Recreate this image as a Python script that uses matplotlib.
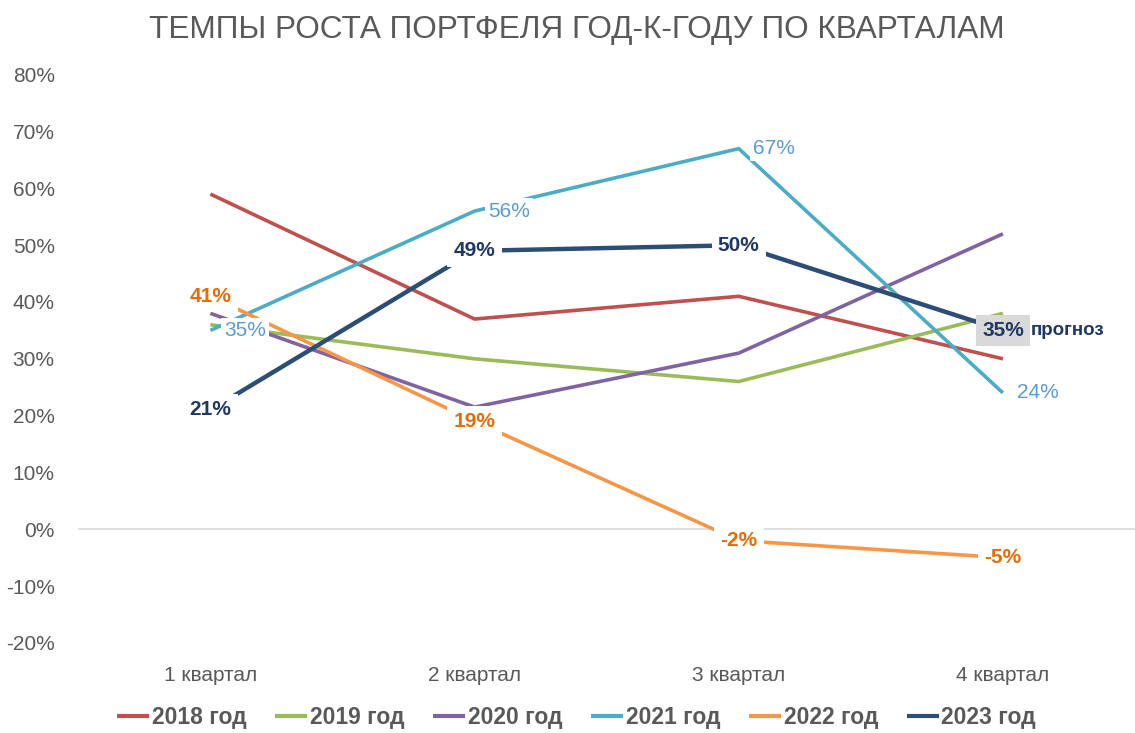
import matplotlib
matplotlib.use('Agg')
import matplotlib.pyplot as plt
from matplotlib.ticker import PercentFormatter

plt.rcParams['font.family'] = ['Liberation Sans', 'DejaVu Sans']
plt.rcParams['axes.unicode_minus'] = False

quarters = ['1 квартал', '2 квартал', '3 квартал', '4 квартал']
series_names = ['2018 год', '2019 год', '2020 год', '2021 год', '2022 год', '2023 год']
y2018 = [59, 37, 41, 30]
y2019 = [36, 30, 26, 38]
y2020 = [38, 21.5, 31, 52]
y2021 = [35, 56, 67, 24]
y2022 = [41, 19, -2, -5]
y2023 = [21, 49, 50, 35]
colors = ['#C0504D', '#9BBB59', '#8064A2', '#4BACC6', '#F79646', '#2C4D75']

GRAY = '#595959'

fig = plt.figure(figsize=(11.35, 7.33), dpi=100)
ax = fig.add_axes([0.069, 0.123, 0.931, 0.775])

x = range(len(quarters))
data = [y2018, y2019, y2020, y2021, y2022, y2023]
for vals, name, c in zip(data, series_names, colors):
    lw = 3.2 if name == '2023 год' else 2.6
    ax.plot(x, vals, color=c, lw=lw, label=name, solid_capstyle='butt', zorder=3)

# 2021 labels sit to the right of the point
for i, v in enumerate(y2021):
    ax.annotate(f'{v}%', (i, v), xytext=(10, 0), textcoords='offset points',
                ha='left', va='center', fontsize=15, color='#5B9BD5', zorder=6,
                bbox=dict(boxstyle='square,pad=0.15', fc='white', ec='none'))

# 2022 labels centred on the point
for i, v in enumerate(y2022):
    ax.text(i, v, f'{v}%', ha='center', va='center', fontsize=15, fontweight='bold',
            color='#E46C0A', zorder=6,
            bbox=dict(boxstyle='square,pad=0.3', fc='white', ec='none'))

# 2023 labels, last one is the forecast
for i, v in enumerate(y2023):
    face = '#D9D9D9' if i == 3 else 'white'
    ax.text(i, v, f'{v}%', ha='center', va='center', fontsize=15, fontweight='bold',
            color='#1F3864', zorder=7,
            bbox=dict(boxstyle='square,pad=0.3', fc=face, ec='none'))
ax.annotate('прогноз', (3, y2023[3]), xytext=(20, 0), textcoords='offset points',
            ha='left', va='center', fontsize=13.5, fontweight='bold', color='#1F3864')

ax.axhline(0, color='#D9D9D9', lw=1.2, zorder=1)

ax.set_xlim(-0.5, 3.5)
ax.set_ylim(-20, 80)
ax.set_yticks(range(-20, 81, 10))
ax.yaxis.set_major_formatter(PercentFormatter(decimals=0))
ax.set_xticks(list(x))
ax.set_xticklabels(quarters)
ax.tick_params(axis='both', length=0, labelsize=15, labelcolor=GRAY)
ax.tick_params(axis='y', pad=17)
ax.tick_params(axis='x', pad=17)
for s in ax.spines.values():
    s.set_visible(False)

fig.suptitle('ТЕМПЫ РОСТА ПОРТФЕЛЯ ГОД-К-ГОДУ ПО КВАРТАЛАМ', fontsize=22.7, color=GRAY,
             x=0.508, y=0.959, va='center')

leg = fig.legend(loc='center', bbox_to_anchor=(0.508, 0.021), ncol=6, frameon=False,
                 prop={'size': 16.5, 'weight': 'bold'}, handlelength=1.4, handletextpad=0.1,
                 columnspacing=1.27)
for t in leg.get_texts():
    t.set_color(GRAY)
for h in leg.get_lines():
    h.set_linewidth(3)

fig.savefig('out.png', dpi=100)
